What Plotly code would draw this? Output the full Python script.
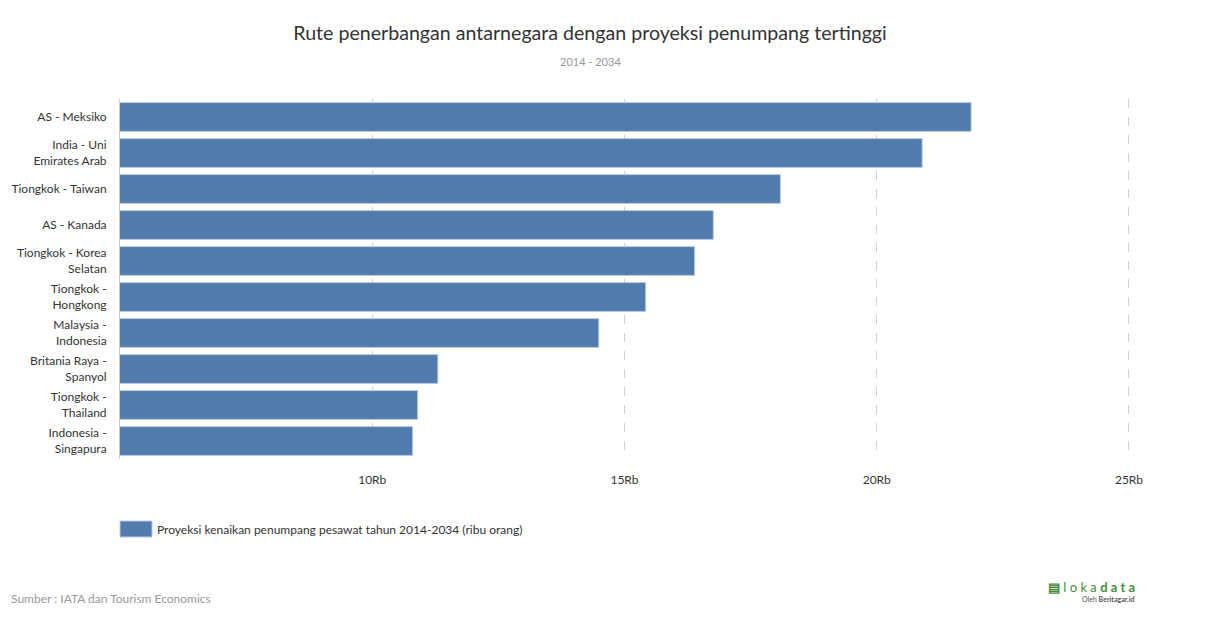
import plotly.graph_objects as go

routes = ["AS - Meksiko", "India - Uni<br>Emirates Arab", "Tiongkok - Taiwan", "AS - Kanada",
          "Tiongkok - Korea<br>Selatan", "Tiongkok -<br>Hongkong", "Malaysia -<br>Indonesia",
          "Britania Raya -<br>Spanyol", "Tiongkok -<br>Thailand", "Indonesia -<br>Singapura"]
values = [21.87, 20.9, 18.09, 16.76, 16.39, 15.42, 14.49, 11.3, 10.9, 10.8]
tick_vals = [10, 15, 20, 25]
tick_text = ["10Rb", "15Rb", "20Rb", "25Rb"]
series_name = "Proyeksi kenaikan penumpang pesawat tahun 2014-2034 (ribu orang)"

OFF = 8  # page body margin
W, H = 1210, 628
ML, MR, MT, MB = 120 - OFF, 80 + OFF, 99 - OFF, 169 + OFF
plot_h = H - MT - MB
plot_w = W - ML - MR


def py(px):
    return (H - MB - (px - OFF)) / plot_h


def pxx(px):
    return (px - OFF - ML) / plot_w


fig = go.Figure()
fig.add_trace(go.Bar(
    y=routes, x=values, orientation="h", base=0,
    marker=dict(color="#527bad", line=dict(color="#b8cbe3", width=1)),
    name=series_name, showlegend=False,
))

fig.update_layout(
    width=W, height=H,
    paper_bgcolor="white", plot_bgcolor="white",
    font=dict(family="Lato", size=12, color="#333333"),
    margin=dict(l=ML, r=MR, t=MT, b=MB, autoexpand=False),
    bargap=0.2,
    title=dict(text="Rute penerbangan antarnegara dengan proyeksi penumpang tertinggi",
               x=(590 - OFF) / W, xanchor="center", xref="container",
               y=1 - (33 - OFF) / H, yref="container", yanchor="middle",
               font=dict(size=19.6, color="#333333", family="Lato")),
    xaxis=dict(range=[5, 25.02], tickvals=tick_vals, ticktext=tick_text,
               showgrid=True, gridcolor="#d0d0d0", griddash="dash", gridwidth=1,
               zeroline=False, showline=False, ticks="outside", ticklen=10,
               tickcolor="rgba(0,0,0,0)", automargin=False,
               tickfont=dict(size=12, color="#333333")),
    yaxis=dict(autorange="reversed", showline=True, linecolor="#cccccc", linewidth=1,
               ticks="", showgrid=False, tickfont=dict(size=12, color="#333333"),
               ticklabelstandoff=10, automargin=False),
    shapes=[dict(type="rect", xref="paper", yref="paper",
                 x0=pxx(120), x1=pxx(152), y0=py(537), y1=py(521),
                 fillcolor="#527bad", line=dict(color="#b8cbe3", width=1))],
    annotations=[
        dict(text="2014 - 2034", x=pxx(590), xref="paper", xanchor="center",
             y=py(62), yref="paper", yanchor="middle", showarrow=False,
             font=dict(size=11, color="#999999")),
        dict(text=series_name, x=pxx(155), xref="paper", xanchor="left",
             y=py(529), yref="paper", yanchor="middle", showarrow=False,
             font=dict(size=12, color="#333333")),
        dict(text="Sumber : IATA dan Tourism Economics", xref="paper", yref="paper",
             x=pxx(9), xanchor="left", y=py(598), yanchor="middle", showarrow=False,
             font=dict(size=12, color="#999999")),
        dict(text="<b>\u25a4</b> l o k a <b>d a t a</b>", xref="paper", yref="paper",
             x=pxx(1137), xanchor="right", y=py(587), yanchor="middle", showarrow=False,
             font=dict(size=13, color="#4a8a3c")),
        dict(text="Oleh <b>Beritagar.id</b>", xref="paper", yref="paper",
             x=pxx(1136), xanchor="right", y=py(599), yanchor="middle", showarrow=False,
             font=dict(size=7, color="#555555")),
    ],
)

fig.write_html("out.html")
